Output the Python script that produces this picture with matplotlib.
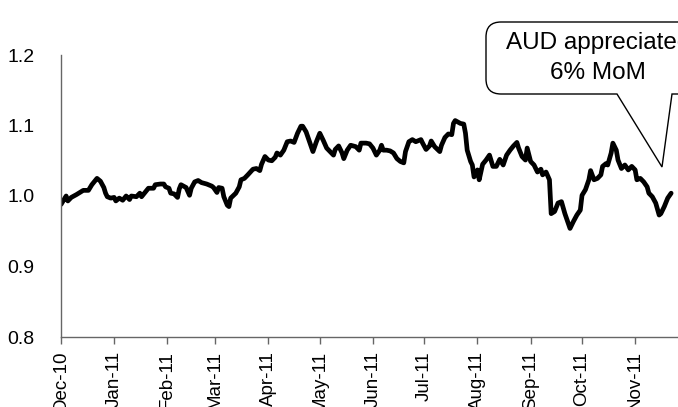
import matplotlib
matplotlib.use("Agg")
import matplotlib.pyplot as plt
import matplotlib.dates as mdates
from matplotlib import font_manager
from matplotlib.path import Path
from matplotlib.patches import PathPatch
import matplotlib.transforms as mtransforms
import numpy as np
import pandas as pd

plt.rcParams['font.family'] = ['Liberation Sans', 'DejaVu Sans']
installed = {f.name for f in font_manager.fontManager.ttflist}
narrow = 'Liberation Sans Narrow' if 'Liberation Sans Narrow' in installed else 'Liberation Sans'

# AUD index, days counted from 1 Dec 2010
day_offset = [0, 3, 4, 6, 9, 13, 16, 18, 20, 21, 23, 25, 26, 27, 29, 31, 32, 34, 36, 38,
              40, 41, 44, 46, 47, 49, 51, 54, 55, 58, 60, 61, 63, 64, 66, 68, 69, 70, 73, 75,
              76, 78, 80, 82, 85, 88, 89, 91, 92, 94, 95, 97, 98, 99, 102, 104, 105, 107, 109, 112,
              114, 116, 117, 119, 121, 123, 125, 126, 128, 130, 132, 134, 136, 138, 140, 141, 143, 145, 147, 149,
              151, 153, 155, 157, 159, 160, 162, 164, 165, 167, 169, 172, 174, 175, 178, 180, 182, 184, 186, 187,
              188, 190, 192, 194, 196, 198, 200, 201, 203, 205, 207, 210, 211, 213, 215, 216, 218, 221, 222, 224,
              226, 228, 229, 230, 233, 235, 236, 237, 239, 240, 241, 243, 244, 246, 248, 250, 252, 254, 256, 258,
              260, 262, 264, 266, 267, 269, 271, 272, 274, 276, 278, 280, 281, 283, 285, 286, 288, 290, 292, 294,
              296, 297, 299, 301, 303, 304, 306, 308, 309, 311, 313, 315, 316, 318, 319, 321, 322, 324, 325, 327,
              329, 331, 333, 335, 336, 338, 340, 342, 343, 345, 347, 349, 350, 352, 354, 356]
aud = [0.988, 1.000, 0.993, 0.998, 1.002, 1.008, 1.008, 1.016, 1.022, 1.025, 1.021, 1.012, 1.004, 0.999, 0.997, 0.998, 0.993, 0.997, 0.994, 1.000,
       0.995, 1.000, 0.999, 1.004, 0.999, 1.005, 1.011, 1.011, 1.016, 1.017, 1.017, 1.013, 1.011, 1.004, 1.003, 0.998, 1.010, 1.016, 1.012, 1.001,
       1.011, 1.020, 1.022, 1.019, 1.017, 1.014, 1.012, 1.005, 1.012, 1.011, 0.999, 0.987, 0.985, 0.997, 1.004, 1.013, 1.023, 1.025, 1.030, 1.038,
       1.039, 1.036, 1.045, 1.056, 1.051, 1.050, 1.055, 1.061, 1.058, 1.065, 1.077, 1.078, 1.076, 1.089, 1.099, 1.099, 1.091, 1.077, 1.063, 1.077,
       1.089, 1.079, 1.068, 1.063, 1.058, 1.066, 1.071, 1.061, 1.053, 1.065, 1.072, 1.070, 1.065, 1.075, 1.075, 1.074, 1.068, 1.058, 1.065, 1.072,
       1.065, 1.065, 1.064, 1.061, 1.053, 1.049, 1.047, 1.063, 1.077, 1.080, 1.077, 1.080, 1.075, 1.066, 1.071, 1.078, 1.070, 1.063, 1.072, 1.083,
       1.088, 1.087, 1.103, 1.107, 1.103, 1.102, 1.089, 1.065, 1.049, 1.044, 1.027, 1.037, 1.023, 1.045, 1.051, 1.058, 1.042, 1.042, 1.052, 1.044,
       1.058, 1.065, 1.071, 1.076, 1.068, 1.056, 1.051, 1.068, 1.049, 1.044, 1.034, 1.038, 1.030, 1.034, 1.023, 0.975, 0.978, 0.990, 0.992, 0.975,
       0.961, 0.954, 0.964, 0.973, 0.980, 1.001, 1.009, 1.023, 1.036, 1.023, 1.025, 1.030, 1.042, 1.046, 1.044, 1.061, 1.075, 1.065, 1.051, 1.039,
       1.044, 1.037, 1.042, 1.037, 1.023, 1.025, 1.020, 1.013, 1.004, 0.999, 0.990, 0.973, 0.975, 0.985, 0.997, 1.004]

y_ticks = [0.8, 0.9, 1.0, 1.1, 1.2]
callout_text = "AUD appreciated\n6% MoM"

start = pd.Timestamp("2010-12-01")
dates = start + pd.to_timedelta(day_offset, unit="D")

W, H = 678, 407
fig = plt.figure(figsize=(W / 100, H / 100), dpi=100)
ax = fig.add_axes([61 / W, 70 / H, (W - 61) / W, (337 - 55) / H])

ax.plot(dates, aud, color="black", lw=3.4, solid_joinstyle="round", solid_capstyle="round")

ax.set_xlim(start, start + pd.Timedelta(days=360))
ax.set_ylim(0.8, 1.2)
ax.set_yticks(y_ticks)
ax.set_yticklabels([f"{t:.1f}" for t in y_ticks], family=narrow)

ax.xaxis.set_major_locator(mdates.MonthLocator())
ax.xaxis.set_major_formatter(mdates.DateFormatter("%b-%y"))
for lbl in ax.get_xticklabels():
    lbl.set_rotation(90)

for side in ["top", "right"]:
    ax.spines[side].set_visible(False)
for side in ["left", "bottom"]:
    ax.spines[side].set_color("#666666")
    ax.spines[side].set_linewidth(1)

ax.tick_params(axis="y", length=0, pad=19, labelsize=14, colors="black")
ax.tick_params(axis="x", length=5, width=1, color="#666666", pad=5, labelsize=13.5)

# callout bubble, drawn in pixel units (origin top-left)
px = mtransforms.Affine2D().scale(1 / W, -1 / H).translate(0, 1) + fig.transFigure
l, r, t, b, rad = 486, 707, 22, 94, 15
verts = [(617, b), (662, 167), (672, b), (r - rad, b), (r, b), (r, b - rad),
         (r, t + rad), (r, t), (r - rad, t), (l + rad, t), (l, t), (l, t + rad),
         (l, b - rad), (l, b), (l + rad, b), (617, b)]
codes = [Path.MOVETO, Path.LINETO, Path.LINETO, Path.LINETO, Path.CURVE3, Path.CURVE3,
         Path.LINETO, Path.CURVE3, Path.CURVE3, Path.LINETO, Path.CURVE3, Path.CURVE3,
         Path.LINETO, Path.CURVE3, Path.CURVE3, Path.CLOSEPOLY]
fig.add_artist(PathPatch(Path(verts, codes), transform=px, facecolor="white",
                         edgecolor="black", lw=1, clip_on=False))
fig.text(506 / W, 1 - 58 / H, callout_text, ha="left", va="center", multialignment="center",
         fontsize=17.5, linespacing=1.42)

fig.savefig("out.png", dpi=100)
